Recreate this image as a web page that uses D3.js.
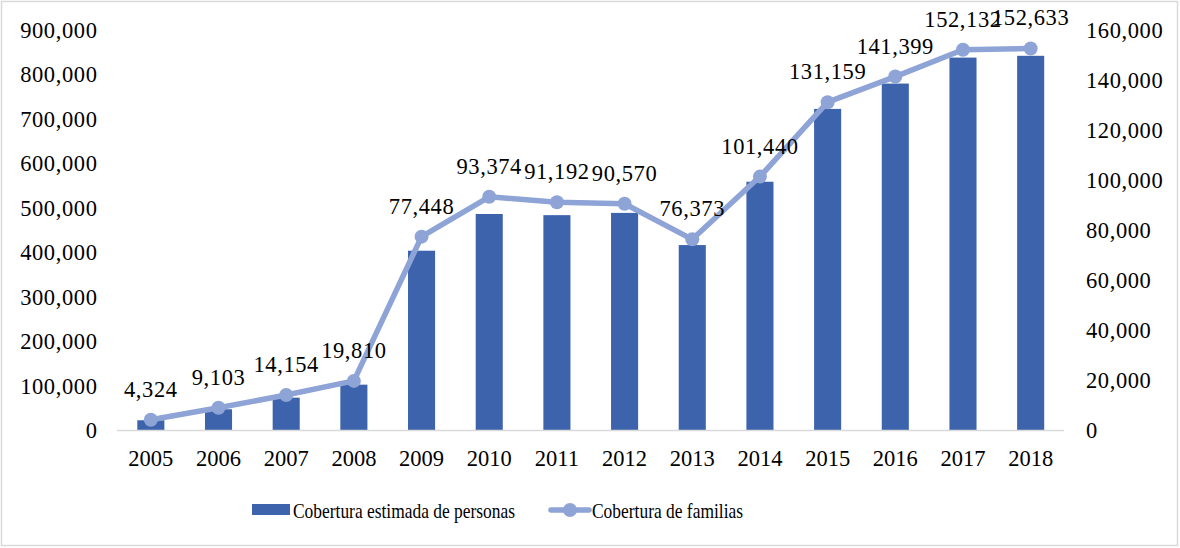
<!DOCTYPE html>
<html><head><meta charset="utf-8">
<script src="https://cdn.jsdelivr.net/npm/d3@7"></script>
<style>
body{margin:0;background:#fff;}
svg text{font-family:"Liberation Serif","Tinos","Times New Roman","DejaVu Serif",serif;fill:#000;}
</style></head>
<body><svg id="chart" width="1180" height="548"></svg>
<script>
const years = ["2005","2006","2007","2008","2009","2010","2011","2012","2013","2014","2015","2016","2017","2018"];
const personas = [23000,47700,73800,103000,404000,486500,483900,489000,416700,559000,722700,779600,838000,842000];
const familias = [4324,9103,14154,19810,77448,93374,91192,90570,76373,101440,131159,141399,152132,152633];
const leftTicks = [0,100000,200000,300000,400000,500000,600000,700000,800000,900000];
const rightTicks = [0,20000,40000,60000,80000,100000,120000,140000,160000];
const seriesNames = ["Cobertura estimada de personas","Cobertura de familias"];

const barColor = "#3C63AC", lineColor = "#8FA4D6";
const fs = 22.5;
const ff = "'Liberation Serif', Tinos, 'Times New Roman', 'DejaVu Serif', serif";
const svg = d3.select("#chart");
svg.append("rect").attr("x",1.5).attr("y",1.5).attr("width",1176).attr("height",544)
  .attr("fill","#fff").attr("stroke","#d9d9d9").attr("stroke-width",1.5);

const x = d3.scaleBand().domain(years).range([117,1064.5]).paddingInner(0.6).paddingOuter(0.3);
const yL = d3.scaleLinear().domain([0,900000]).range([430.5,30]);
const yR = d3.scaleLinear().domain([0,160000]).range([430.5,30]);
const fmt = d3.format(",");
const cx = d => x(d)+x.bandwidth()/2;

svg.append("g").selectAll("rect").data(years).join("rect")
  .attr("x",d=>x(d)).attr("width",x.bandwidth())
  .attr("y",(d,i)=>yL(personas[i])).attr("height",(d,i)=>yL(0)-yL(personas[i]))
  .attr("fill",barColor);

svg.append("line").attr("x1",117).attr("x2",1064).attr("y1",yL(0)).attr("y2",yL(0))
  .attr("stroke","#d9d9d9").attr("stroke-width",1.5);

const gl = svg.append("g").attr("transform","translate(97.5,0)")
  .call(d3.axisLeft(yL).tickValues(leftTicks).tickFormat(fmt).tickSize(0).tickPadding(0));
gl.select(".domain").remove();
gl.attr("font-family",ff).attr("font-size",fs).attr("letter-spacing",0.6);

const gr = svg.append("g").attr("transform","translate(1086,0)")
  .call(d3.axisRight(yR).tickValues(rightTicks).tickFormat(fmt).tickSize(0).tickPadding(0));
gr.select(".domain").remove();
gr.attr("font-family",ff).attr("font-size",fs).attr("letter-spacing",0.6);

const gx = svg.append("g").attr("transform",`translate(0,${yL(0)})`)
  .call(d3.axisBottom(x).tickSize(0).tickPadding(20));
gx.select(".domain").remove();
gx.attr("font-family",ff).attr("font-size",fs);

const line = d3.line().x((d,i)=>cx(years[i])).y(d=>yR(d));
svg.append("path").datum(familias).attr("d",line).attr("fill","none")
  .attr("stroke",lineColor).attr("stroke-width",5.5).attr("stroke-linejoin","round");
svg.append("g").selectAll("circle").data(familias).join("circle")
  .attr("cx",(d,i)=>cx(years[i])).attr("cy",d=>yR(d)).attr("r",7).attr("fill",lineColor);

svg.append("g").attr("font-family",ff).attr("font-size",fs).attr("letter-spacing",0.6)
  .selectAll("text").data(familias).join("text")
  .attr("x",(d,i)=>cx(years[i])).attr("y",d=>yR(d)-23)
  .attr("text-anchor","middle").text(d=>fmt(d));

const lg = svg.append("g").attr("font-family",ff).attr("font-size",22);
lg.append("rect").attr("x",252).attr("y",504).attr("width",38).attr("height",11).attr("fill",barColor);
lg.append("text").attr("x",293).attr("y",510).attr("dy","0.35em")
  .attr("textLength",222).attr("lengthAdjust","spacingAndGlyphs").text(seriesNames[0]);
lg.append("line").attr("x1",551).attr("x2",589).attr("y1",510).attr("y2",510)
  .attr("stroke",lineColor).attr("stroke-width",5.5).attr("stroke-linecap","round");
lg.append("circle").attr("cx",570).attr("cy",510).attr("r",7).attr("fill",lineColor);
lg.append("text").attr("x",592).attr("y",510).attr("dy","0.35em")
  .attr("textLength",151).attr("lengthAdjust","spacingAndGlyphs").text(seriesNames[1]);
</script></body></html>
